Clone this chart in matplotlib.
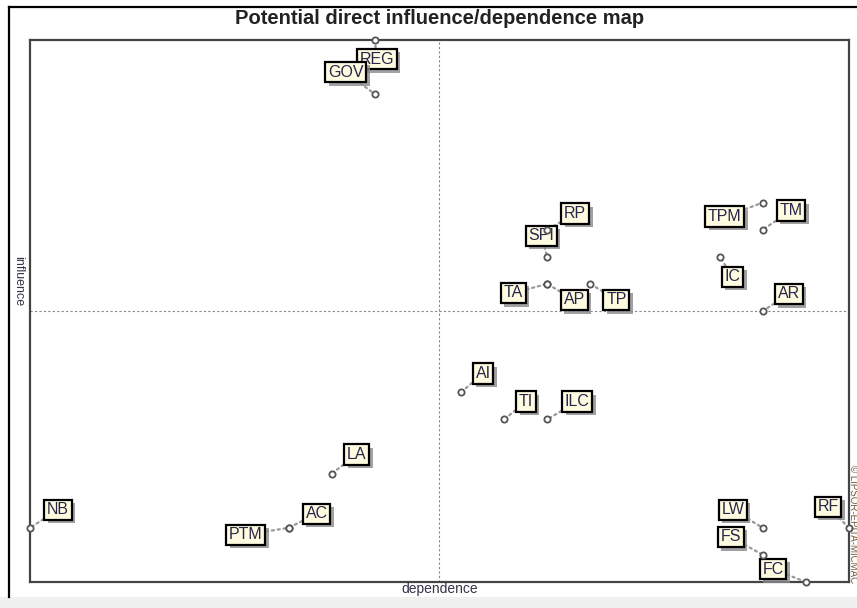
import matplotlib
matplotlib.use("Agg")
import matplotlib.pyplot as plt
import matplotlib.patheffects as pe
from matplotlib.lines import Line2D
from matplotlib.patches import Rectangle

plt.rcParams['font.family'] = ['Liberation Sans', 'DejaVu Sans']

# variables of the MICMAC map
names = ["REG", "GOV", "TPM", "TM", "RP", "SPI", "IC", "TA", "AP", "TP", "AR",
         "AI", "TI", "ILC", "LA", "NB", "AC", "PTM", "LW", "RF", "FS", "FC"]
dependence = [8, 8, 17, 17, 12, 12, 16, 12, 12, 13, 17,
              10, 11, 12, 7, 0, 6, 6, 17, 19, 17, 18]
influence = [20, 18, 14, 13, 13, 12, 12, 11, 11, 11, 10,
             7, 6, 6, 4, 2, 2, 2, 2, 2, 1, 0]
# label offsets (pixels, from the point)
label_dx = [2, -29, -38, 28, 28, -6, 13, -34, 27, 26, 26,
            22, 22, 30, 25, 28, 28, -43, -30, -21, -32, -33]
label_dy = [-19, 22, -14, 19, 16, 21, -20, -9, -16, -16, 17,
            19, 18, 18, 19, 18, 14, -7, 18, 21, 18, 13]

fig = plt.figure(figsize=(8.57, 6.08), dpi=100)
W, H = 857.0, 608.0
ax = fig.add_axes([30 / W, 1 - 582 / H, (849 - 30) / W, (582 - 40) / H])
ax.set_xlim(0, 19)
ax.set_ylim(0, 20)
ax.set_xticks([])
ax.set_yticks([])
for s in ax.spines.values():
    s.set_color("#444444")
    s.set_linewidth(1.6)

ax.axvline(9.5, color="#888888", lw=0.8, ls=(0, (2, 2)))
ax.axhline(10, color="#888888", lw=0.8, ls=(0, (2, 2)))

shadow = [pe.SimplePatchShadow(offset=(2.5, -2.5), shadow_rgbFace="#8a8a8a", alpha=0.8),
          pe.Normal()]

for n, x, y, dx, dy in zip(names, dependence, influence, label_dx, label_dy):
    t = ax.annotate(n, (x, y), xytext=(dx, dy), textcoords="offset pixels",
                    ha="center", va="center", fontsize=11.5, color="#26264a",
                    bbox=dict(boxstyle="square,pad=0.17", fc="#fffbe0", ec="black", lw=1.6),
                    arrowprops=dict(arrowstyle="-", color="#999999", lw=1.6, ls=":",
                                    shrinkA=0, shrinkB=0),
                    annotation_clip=False, zorder=4)
    t.get_bbox_patch().set_path_effects(shadow)
    ax.plot(x, y, marker="o", ms=4.5, mfc="white", mec="#555555", mew=1.3,
            clip_on=False, zorder=5)

fig.text(440 / W, 1 - 18 / H, "Potential direct influence/dependence map",
         ha="center", va="center", fontsize=14.5, fontweight="bold", color="#222222")
fig.text(440 / W, 1 - 589 / H, "dependence", ha="center", va="center",
         fontsize=10, color="#33334a")
fig.text(18 / W, 1 - 281 / H, "influence", ha="center", va="center",
         fontsize=9, rotation=-90, color="#33334a")
fig.text(853 / W, 1 - 465 / H, "\u00a9 LIPSOR-EPITA-MICMAC", ha="center", va="top",
         fontsize=7, rotation=-90, color="#7a5a3a")

# outer frame and bottom band
fig.patches.append(Rectangle((0, 0), 1, 11 / H, transform=fig.transFigure,
                             fc="#f0f0f0", ec="none", zorder=0))
fig.lines.append(Line2D([9 / W, 9 / W], [1 - 597 / H, 1 - 7 / H],
                        transform=fig.transFigure, color="black", lw=1.6))
fig.lines.append(Line2D([9 / W, 1], [1 - 7 / H, 1 - 7 / H],
                        transform=fig.transFigure, color="black", lw=1.6))

fig.savefig("out.png", dpi=100)
